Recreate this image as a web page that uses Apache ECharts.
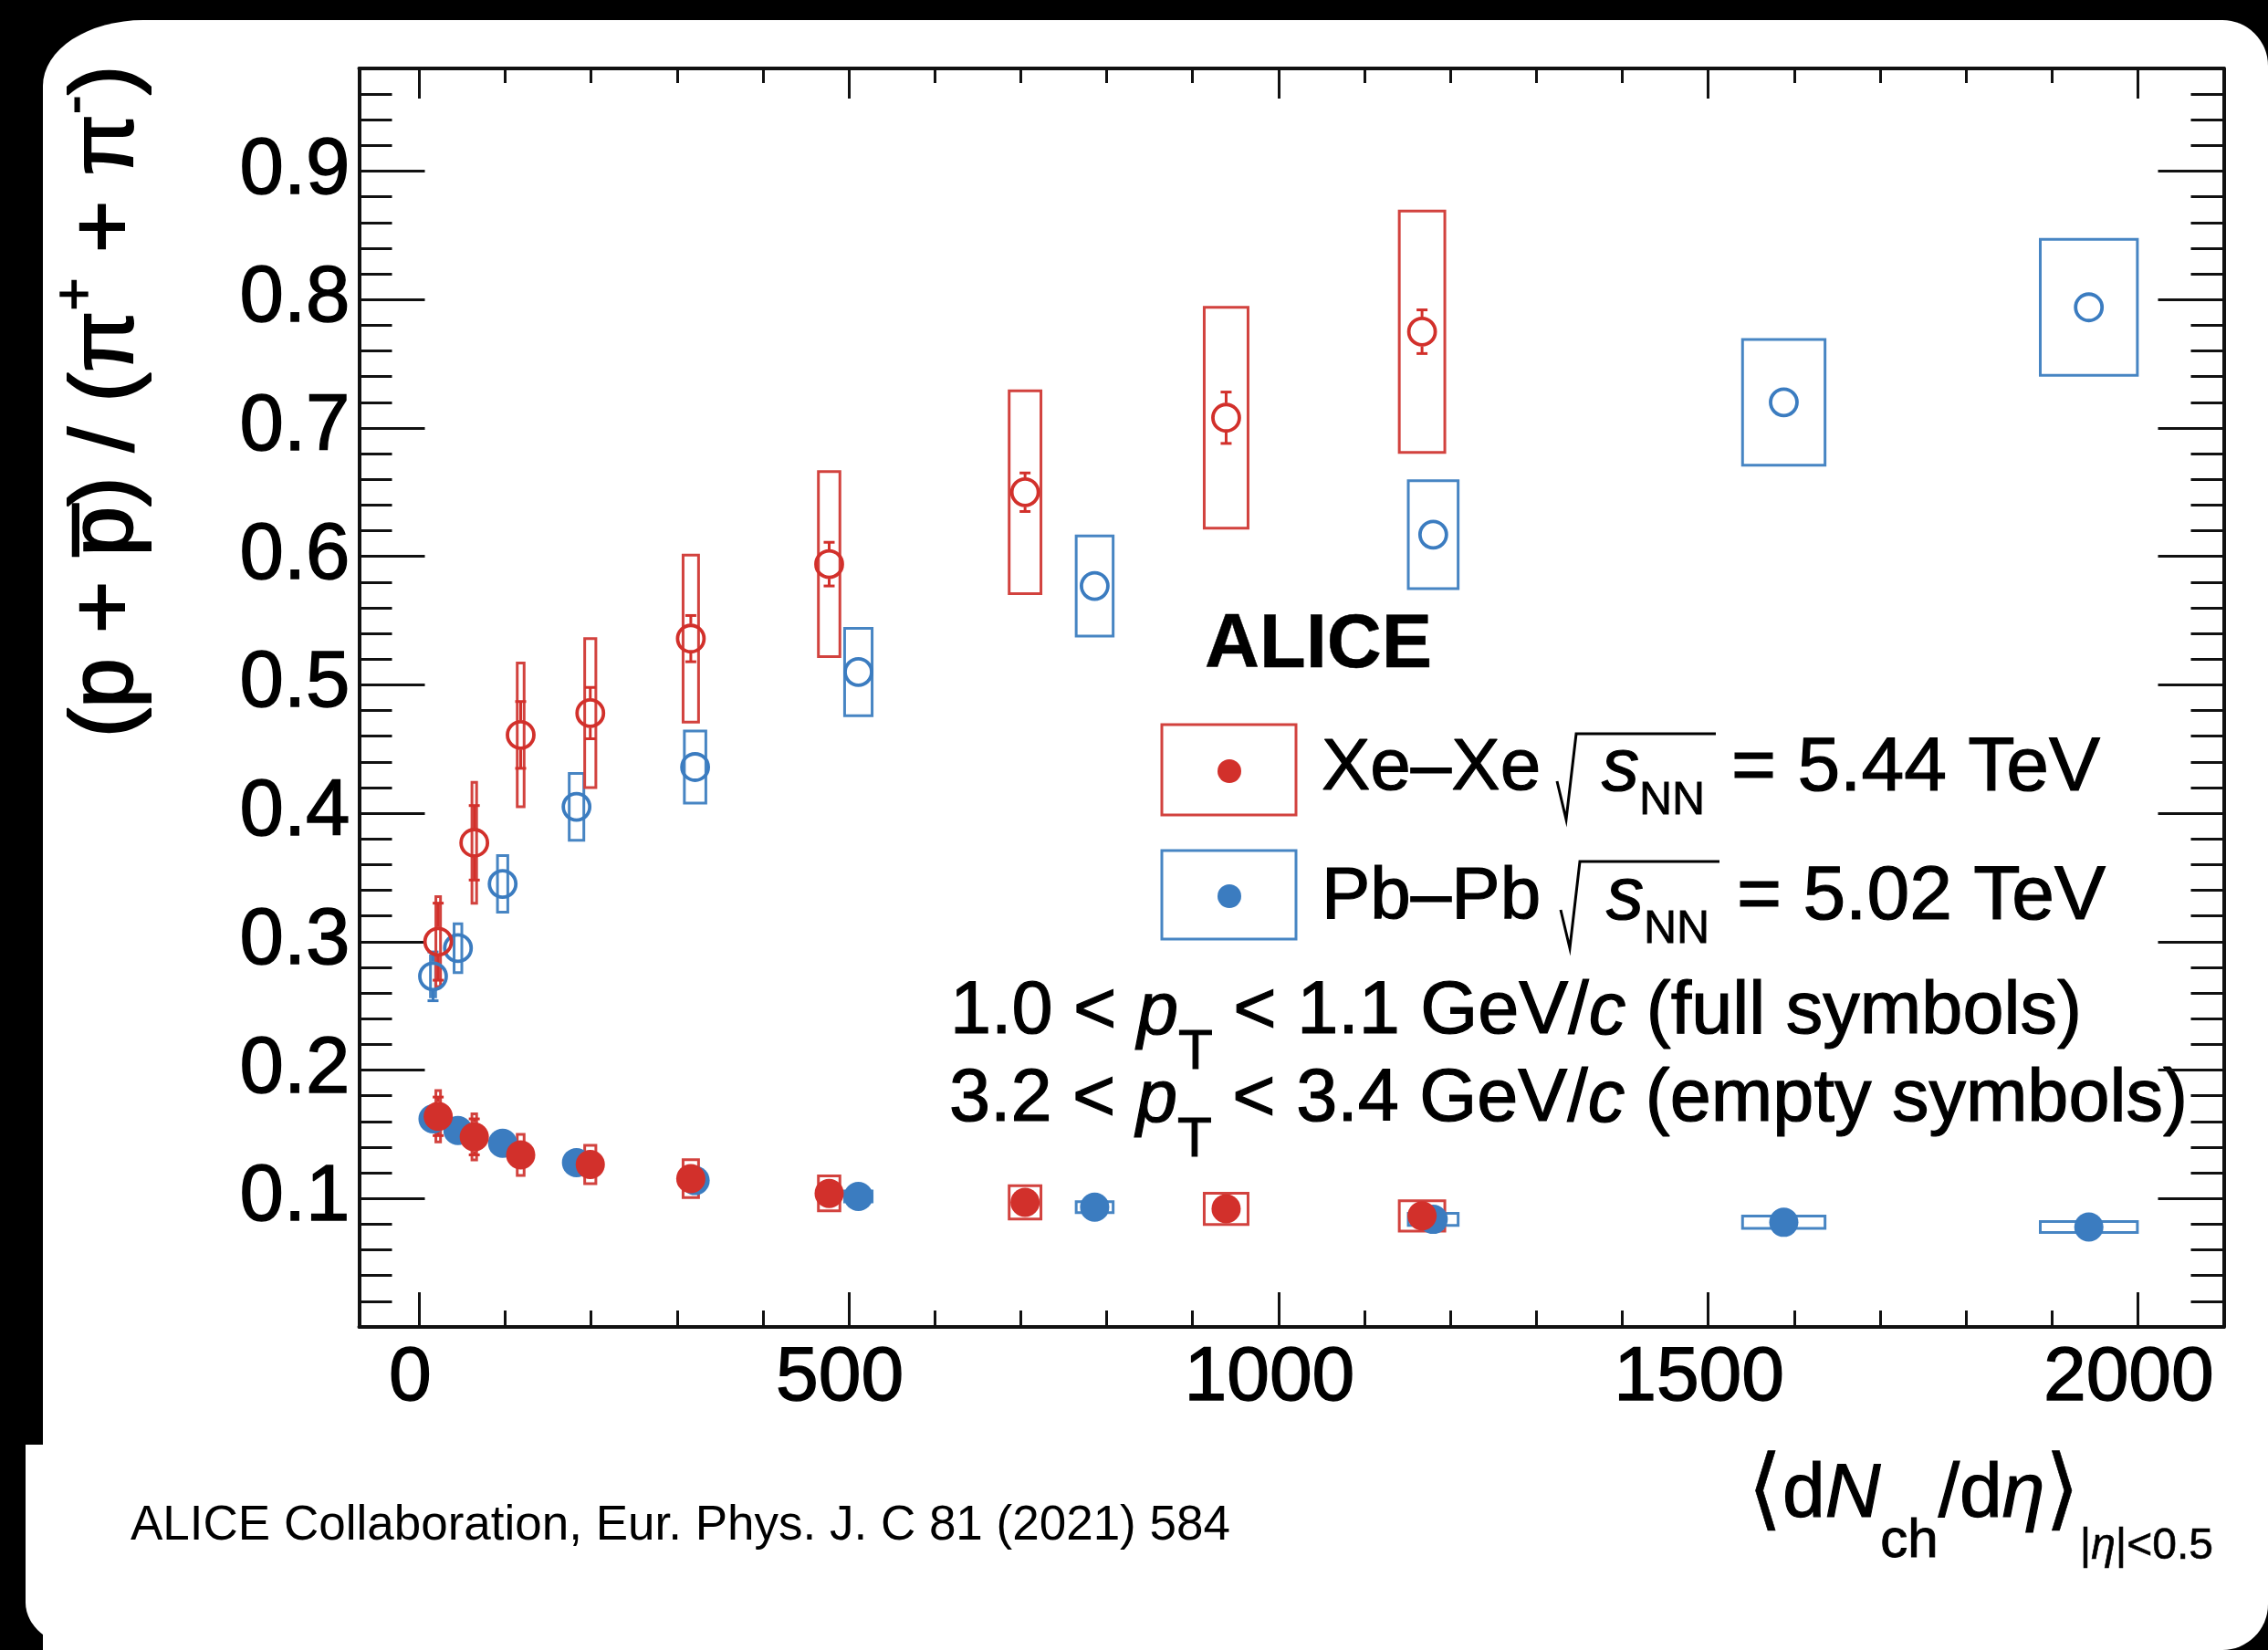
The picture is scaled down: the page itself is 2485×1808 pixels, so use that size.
<!DOCTYPE html>
<html>
<head>
<meta charset="utf-8">
<title>(p + p̄)/(π⁺ + π⁻) vs dNch/dη</title>
<script src="https://cdn.jsdelivr.net/npm/echarts@6/dist/echarts.min.js"></script>
<style>
  html, body { margin: 0; padding: 0; background: #000; }
  #wrap { position: relative; width: 2485px; height: 1808px; overflow: hidden; background: #000; }
  .card { position: absolute; background: #fff; }
  #chart { position: absolute; left: 0; top: 0; width: 2485px; height: 1808px; }
</style>
</head>
<body>
<div id="wrap">
  <div class="card" style="left:47px; top:22px; width:2438px; height:1786px; border-radius:110px 50px 50px 0 / 72px 50px 50px 0;"></div>
  <div class="card" style="left:28px; top:1583px; width:300px; height:225px; border-bottom-left-radius:72px 52px;"></div>
  <div id="chart"></div>
</div>
<script>
// ---- Xe–Xe, sqrt(sNN) = 5.44 TeV ----
const xeMult      = [22, 64, 118, 199, 316, 477, 705, 939, 1167];
const xeMultErr   = [2.7, 2.7, 4, 6.5, 9, 12.5, 18.5, 25.5, 26.5];
// 1.0 < pT < 1.1 GeV/c
const xeLowRatio  = [0.164, 0.148, 0.134, 0.1265, 0.1155, 0.104, 0.097, 0.092, 0.0865];
const xeLowStat   = [0.015, 0.014, 0.004, 0.003, 0.002, 0.002, 0.002, 0.002, 0.002];
const xeLowSys    = [0.020, 0.018, 0.016, 0.015, 0.0148, 0.0136, 0.013, 0.0122, 0.0118];
// 3.2 < pT < 3.4 GeV/c
const xeHighRatio = [0.300, 0.377, 0.461, 0.478, 0.536, 0.594, 0.650, 0.708, 0.775];
const xeHighStat  = [0.030, 0.029, 0.026, 0.020, 0.018, 0.017, 0.015, 0.020, 0.017];
const xeHighSys   = [0.035, 0.047, 0.056, 0.058, 0.065, 0.072, 0.079, 0.086, 0.094];

// ---- Pb–Pb, sqrt(sNN) = 5.02 TeV ----
const pbMult      = [16, 45, 97, 183, 321, 511, 786, 1180, 1588, 1943];
const pbMultErr   = [3, 4.5, 6, 8.5, 12.5, 16, 21.5, 29, 48, 56.5];
const pbLowRatio  = [0.162, 0.153, 0.143, 0.128, 0.114, 0.1016, 0.0933, 0.0838, 0.0815, 0.0778];
const pbLowStat   = [0.002, 0.002, 0.002, 0.002, 0.002, 0.002, 0.002, 0.002, 0.002, 0.002];
const pbLowSys    = [0.004, 0.004, 0.004, 0.004, 0.004, 0.0043, 0.0043, 0.0047, 0.0048, 0.0042];
const pbHighRatio = [0.273, 0.295, 0.345, 0.405, 0.436, 0.510, 0.577, 0.617, 0.720, 0.794];
const pbHighStat  = [0.019, 0.010, 0.007, 0.006, 0.005, 0.004, 0.004, 0.004, 0.004, 0.004];
const pbHighSys   = [0.016, 0.019, 0.022, 0.026, 0.028, 0.034, 0.039, 0.042, 0.049, 0.053];

// axis tick labels
const xTickValues = [0, 500, 1000, 1500, 2000];
const yTickValues = [0.1, 0.2, 0.3, 0.4, 0.5, 0.6, 0.7, 0.8, 0.9];

const FONT = '"Liberation Sans", Arial, Helvetica, sans-serif';
const RED = '#d2302b';
const RED_BOX = '#d2423e';
const BLUE = '#3b7cc0';
const BLUE_BOX = '#4785c3';
const INK = '#111';
const HEAVY = { textBorderColor: '#000', textBorderWidth: 1.4 };   // slightly heavier glyphs
const OPEN_SIZE = 29;    // open marker diameter (px, without border)
const FULL_SIZE = 32;    // full marker diameter (px)

const zip = (xs, ...cols) => xs.map((x, i) => [x, ...cols.map(c => c[i])]);

// systematic uncertainty boxes: [x, y, dx, dy]
function sysBoxes(color) {
  return function (params, api) {
    const x = api.value(0), y = api.value(1), dx = api.value(2), dy = api.value(3);
    const a = api.coord([x - dx, y + dy]);
    const b = api.coord([x + dx, y - dy]);
    return {
      type: 'rect',
      shape: { x: a[0], y: a[1], width: b[0] - a[0], height: b[1] - a[1] },
      style: { fill: 'none', stroke: color, lineWidth: 3 }
    };
  };
}

// statistical error bars drawn outside the marker: [x, y, err]
function statBars(color, radius) {
  return function (params, api) {
    const x = api.value(0), y = api.value(1), e = api.value(2);
    const c = api.coord([x, y]);
    const top = api.coord([x, y + e])[1];
    const bot = api.coord([x, y - e])[1];
    const st = { stroke: color, lineWidth: 3 };
    const kids = [];
    if (c[1] - radius > top) {
      kids.push({ type: 'line', shape: { x1: c[0], y1: top, x2: c[0], y2: c[1] - radius }, style: st });
      kids.push({ type: 'line', shape: { x1: c[0] - 6, y1: top, x2: c[0] + 6, y2: top }, style: st });
    }
    if (bot > c[1] + radius) {
      kids.push({ type: 'line', shape: { x1: c[0], y1: c[1] + radius, x2: c[0], y2: bot }, style: st });
      kids.push({ type: 'line', shape: { x1: c[0] - 6, y1: bot, x2: c[0] + 6, y2: bot }, style: st });
    }
    return { type: 'group', children: kids };
  };
}

function boxSeries(data, color) {
  return { type: 'custom', data, renderItem: sysBoxes(color), encode: { x: 0, y: 1 }, silent: true, clip: false };
}
function barSeries(data, color, filled) {
  const r = filled ? FULL_SIZE / 2 : OPEN_SIZE / 2 + 1.5;
  return { type: 'custom', data, renderItem: statBars(color, r), encode: { x: 0, y: 1 }, silent: true, clip: false };
}
function markerSeries(data, color, filled) {
  return {
    type: 'scatter', data, symbol: 'circle',
    symbolSize: filled ? FULL_SIZE : OPEN_SIZE,
    itemStyle: filled
      ? { color: color, opacity: 1 }
      : { color: 'rgba(255,255,255,0)', borderColor: color, borderWidth: 3.8, opacity: 1 },
    silent: true, clip: false
  };
}

function xAxisCfg(pos) {
  const bottom = pos === 'bottom';
  return {
    type: 'value', position: pos, min: -70, max: 2100, splitNumber: 5,
    axisLine: { show: true, onZero: false, lineStyle: { color: INK, width: 4 } },
    axisTick: { show: true, inside: true, length: bottom ? 38 : 33, lineStyle: { color: INK, width: 3 } },
    minorTick: { show: true, splitNumber: 5, length: bottom ? 18 : 16, lineStyle: { color: INK, width: 3 } },
    splitLine: { show: false },
    axisLabel: Object.assign({
      show: bottom, margin: 15, color: '#000', fontFamily: FONT, fontSize: 84,
      padding: [0, 20, 0, 0],
      formatter: v => xTickValues.includes(Math.round(v)) && Math.abs(v - Math.round(v)) < 1e-6 ? String(Math.round(v)) : ''
    }, HEAVY)
  };
}
function yAxisCfg(pos) {
  const left = pos === 'left';
  return {
    type: 'value', position: pos, min: 0, max: 0.98, interval: 0.1,
    axisLine: { show: true, onZero: false, lineStyle: { color: INK, width: 4 } },
    axisTick: { show: true, inside: true, length: 72, lineStyle: { color: INK, width: 3 } },
    minorTick: { show: true, splitNumber: 5, length: 36, lineStyle: { color: INK, width: 3 } },
    splitLine: { show: false },
    axisLabel: Object.assign({
      show: left, margin: 10, color: '#000', fontFamily: FONT, fontSize: 87,
      formatter: v => yTickValues.some(t => Math.abs(t - v) < 1e-6) ? v.toFixed(1) : ''
    }, HEAVY)
  };
}

// legend, labels and titles
const rs = (o) => Object.assign({ fontFamily: FONT, fill: '#000', stroke: '#000', lineWidth: 1.2 }, o);
const txt = (x, y, text, extra) => ({
  type: 'text', x, y, silent: true,
  style: Object.assign({ text, fill: '#000', stroke: '#000', lineWidth: 1.2, fontFamily: FONT, fontSize: 80, align: 'left', verticalAlign: 'middle' }, extra || {})
});
const sqrtS = (x, y) => ({
  type: 'text', x, y, silent: true,
  style: {
    text: '{i|s}{s|NN}', align: 'left', verticalAlign: 'middle',
    rich: {
      i: rs({ fontSize: 82, fontStyle: 'italic', lineHeight: 120 }),
      s: rs({ fontSize: 50, lineHeight: 40, verticalAlign: 'bottom', lineWidth: 0.8 })
    }
  }
});
const radical = (pts) => ({ type: 'polyline', silent: true, shape: { points: pts }, style: { stroke: '#000', lineWidth: 3, fill: 'none' } });
const ptLine = (x, y, lo, hi, tag) => ({
  type: 'text', x, y, silent: true,
  style: {
    text: '{m|' + lo + ' < }{i|p}{s|T}{m| < ' + hi + ' GeV/}{i|c}{m| ' + tag + '}',
    align: 'left', verticalAlign: 'middle',
    rich: {
      m: rs({ fontSize: 81, lineHeight: 150 }),
      i: rs({ fontSize: 81, fontStyle: 'italic', lineHeight: 150 }),
      s: rs({ fontSize: 62, lineHeight: 10, verticalAlign: 'bottom', lineWidth: 1 })
    }
  }
});

const graphic = [
  // y-axis title
  {
    type: 'text', x: 118, y: 440, rotation: Math.PI / 2, silent: true,
    style: {
      text: '{m|(p + p\u0305) / (\u03c0}{u|+}{m| + \u03c0}{u|-}{m|)}',
      align: 'center', verticalAlign: 'middle',
      rich: {
        m: rs({ fontSize: 98, lineHeight: 130, lineWidth: 2 }),
        u: rs({ fontSize: 62, lineHeight: 46, verticalAlign: 'top', lineWidth: 1.4 })
      }
    }
  },
  // x-axis title
  {
    type: 'text', x: 2425, y: 1639, silent: true,
    style: {
      text: '{a|\u27e8}{m|d}{i|N}{s|ch}{m|/d}{i|\u03b7}{a|\u27e9}{t||}{ti|\u03b7}{t||<0.5}',
      align: 'right', verticalAlign: 'middle',
      rich: {
        a: rs({ fontFamily: '"DejaVu Sans", ' + FONT, fontSize: 98, lineHeight: 160, lineWidth: 0.6 }),
        m: rs({ fontSize: 84, lineHeight: 160 }),
        i: rs({ fontSize: 84, fontStyle: 'italic', lineHeight: 160 }),
        s: rs({ fontSize: 60, lineHeight: 40, verticalAlign: 'bottom', lineWidth: 1 }),
        t: rs({ fontSize: 48, lineHeight: 22, verticalAlign: 'bottom', lineWidth: 0.6 }),
        ti: rs({ fontSize: 48, fontStyle: 'italic', lineHeight: 22, verticalAlign: 'bottom', lineWidth: 0.6 })
      }
    }
  },
  // ALICE label
  txt(1320, 708, 'ALICE', { fontWeight: 'bold', fontSize: 83, lineWidth: 0.5 }),
  // legend entries
  { type: 'rect', silent: true, shape: { x: 1273, y: 794, width: 147, height: 99 }, style: { fill: 'none', stroke: RED_BOX, lineWidth: 3 } },
  { type: 'circle', silent: true, shape: { cx: 1347, cy: 845, r: 13 }, style: { fill: RED } },
  txt(1448, 843, 'Xe\u2013Xe'),
  radical([[1706, 856], [1716, 898], [1727, 804], [1880, 804]]),
  sqrtS(1755, 843),
  txt(1897, 843, '= 5.44 TeV', { fontSize: 84 }),
  { type: 'rect', silent: true, shape: { x: 1273, y: 932, width: 147, height: 97 }, style: { fill: 'none', stroke: BLUE_BOX, lineWidth: 3 } },
  { type: 'circle', silent: true, shape: { cx: 1347, cy: 982, r: 13 }, style: { fill: BLUE } },
  txt(1448, 984, 'Pb\u2013Pb'),
  radical([[1710, 997], [1720, 1039], [1731, 944], [1884, 944]]),
  sqrtS(1760, 984),
  txt(1903, 984, '= 5.02 TeV', { fontSize: 84 }),
  // pT selections
  ptLine(1041, 1110, '1.0', '1.1', '(full symbols)'),
  ptLine(1040, 1206, '3.2', '3.4', '(empty symbols)'),
  // reference
  txt(143, 1672, 'ALICE Collaboration, Eur. Phys. J. C 81 (2021) 584', { fontSize: 53, lineWidth: 0 })
];

const option = {
  animation: false,
  backgroundColor: 'transparent',
  grid: { left: 393.5, top: 75, width: 2043, height: 1379, containLabel: false, outerBoundsMode: 'none' },
  xAxis: [xAxisCfg('bottom'), xAxisCfg('top')],
  yAxis: [yAxisCfg('left'), yAxisCfg('right')],
  series: [
    // Pb–Pb
    boxSeries(zip(pbMult, pbLowRatio, pbMultErr, pbLowSys), BLUE_BOX),
    boxSeries(zip(pbMult, pbHighRatio, pbMultErr, pbHighSys), BLUE_BOX),
    barSeries(zip(pbMult, pbLowRatio, pbLowStat), BLUE, true),
    barSeries(zip(pbMult, pbHighRatio, pbHighStat), BLUE, false),
    markerSeries(zip(pbMult, pbLowRatio), BLUE, true),
    markerSeries(zip(pbMult, pbHighRatio), BLUE, false),
    // Xe–Xe
    boxSeries(zip(xeMult, xeLowRatio, xeMultErr, xeLowSys), RED_BOX),
    boxSeries(zip(xeMult, xeHighRatio, xeMultErr, xeHighSys), RED_BOX),
    barSeries(zip(xeMult, xeLowRatio, xeLowStat), RED, true),
    barSeries(zip(xeMult, xeHighRatio, xeHighStat), RED, false),
    markerSeries(zip(xeMult, xeLowRatio), RED, true),
    markerSeries(zip(xeMult, xeHighRatio), RED, false)
  ],
  graphic
};

const chart = echarts.init(document.getElementById('chart'), null, { renderer: 'canvas', width: 2485, height: 1808 });
chart.setOption(option);
</script>
</body>
</html>
